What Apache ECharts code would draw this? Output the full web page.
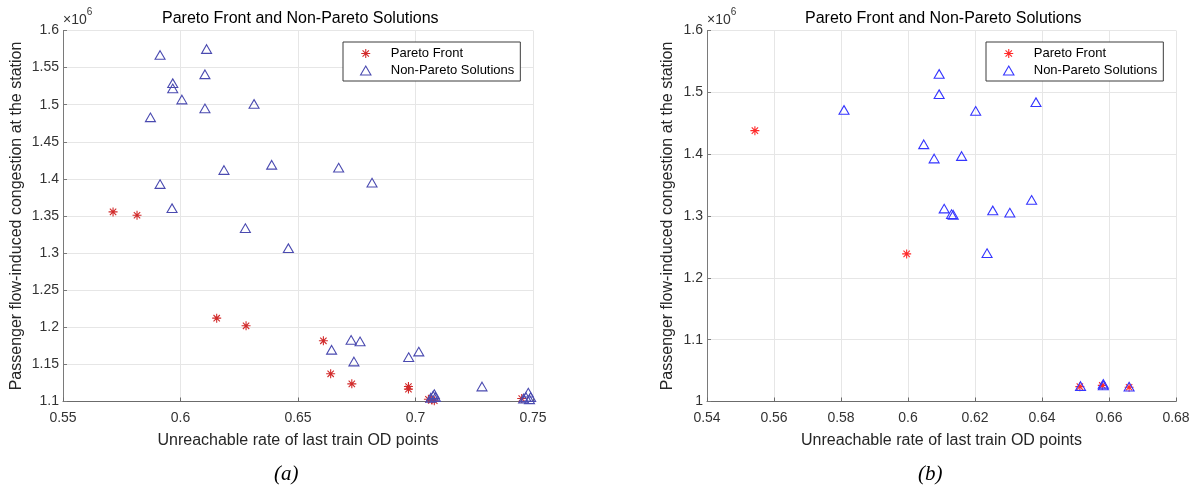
<!DOCTYPE html>
<html>
<head>
<meta charset="utf-8">
<script src="https://cdn.jsdelivr.net/npm/echarts@6/dist/echarts.min.js"></script>
<style>
html,body{margin:0;padding:0;background:#fff;}
#chart{width:1195px;height:491px;}
</style>
</head>
<body>
<div id="chart"></div>
<script>
// ---- Data (y values in units of 10^6) ----
const titleText = 'Pareto Front and Non-Pareto Solutions';
const xLabel = 'Unreachable rate of last train OD points';
const yLabel = 'Passenger flow-induced congestion at the station';
const seriesNames = ['Pareto Front', 'Non-Pareto Solutions'];
const panelLabels = ['(a)', '(b)'];

const xTicksA = [0.55, 0.6, 0.65, 0.7, 0.75];
const yTicksA = [1.1, 1.15, 1.2, 1.25, 1.3, 1.35, 1.4, 1.45, 1.5, 1.55, 1.6];
const xTicksB = [0.54, 0.56, 0.58, 0.6, 0.62, 0.64, 0.66, 0.68];
const yTicksB = [1.0, 1.1, 1.2, 1.3, 1.4, 1.5, 1.6];

const paretoAX = [0.5713, 0.5815, 0.6154, 0.6279, 0.6608, 0.6639, 0.6729, 0.697, 0.697, 0.7055, 0.707, 0.708, 0.7452];
const paretoAY = [1.3555, 1.351, 1.2123, 1.202, 1.1818, 1.1373, 1.1238, 1.1202, 1.1167, 1.103, 1.102, 1.101, 1.104];

const nonParetoAX = [0.5913, 0.6111, 0.6104, 0.5967, 0.5967, 0.6006, 0.6104, 0.5872, 0.6313, 0.6185, 0.6388, 0.5913, 0.5964, 0.6276, 0.6673, 0.6815, 0.6459, 0.6726, 0.6764, 0.6643, 0.6738, 0.6971, 0.7014, 0.7283, 0.7065, 0.7075, 0.708, 0.7085, 0.746, 0.747, 0.748, 0.749, 0.7485];
const nonParetoAY = [1.567, 1.575, 1.541, 1.529, 1.522, 1.507, 1.495, 1.483, 1.501, 1.412, 1.419, 1.393, 1.3605, 1.3336, 1.4152, 1.395, 1.3066, 1.183, 1.181, 1.1697, 1.1539, 1.1598, 1.1673, 1.1202, 1.105, 1.108, 1.11, 1.106, 1.104, 1.106, 1.112, 1.106, 1.103];

const paretoBX = [0.5543, 0.5996, 0.6513, 0.658, 0.666];
const paretoBY = [1.438, 1.2387, 1.024, 1.026, 1.023];

const nonParetoBX = [0.6093, 0.6093, 0.6202, 0.6382, 0.6047, 0.6078, 0.616, 0.6108, 0.613, 0.6135, 0.6253, 0.6304, 0.6369, 0.6236, 0.5809, 0.6515, 0.6583, 0.6583, 0.666];
const nonParetoBY = [1.5297, 1.497, 1.47, 1.484, 1.416, 1.393, 1.397, 1.312, 1.303, 1.302, 1.309, 1.3055, 1.326, 1.24, 1.4715, 1.025, 1.0286, 1.026, 1.024];

// ---- Styling ----
const STAR = 'path://M5,0 L5,10 M0,5 L10,5 M1.46,1.46 L8.54,8.54 M1.46,8.54 L8.54,1.46';
const TRI = 'path://M5,0 L10,8.66 L0,8.66 Z';
const FONT = '"Liberation Sans", Arial, Helvetica, sans-serif';
const colors = {
  a: { star: '#d22b2b', tri: '#4a4ab0' },
  b: { star: '#ff2a2a', tri: '#3535ff' }
};

const zip = (xs, ys) => xs.map((x, i) => [x, ys[i]]);
const fmt = v => String(parseFloat(v.toFixed(4)));

function xAxis(ticks, gridIndex) {
  return {
    type: 'value', gridIndex,
    min: ticks[0], max: ticks[ticks.length - 1],
    interval: +(ticks[1] - ticks[0]).toFixed(4),
    name: xLabel, nameLocation: 'middle', nameGap: 31,
    nameTextStyle: { fontFamily: FONT, fontSize: 16, color: '#262626' },
    axisLine: { show: true, onZero: false, lineStyle: { color: '#6b6b6b', width: 1 } },
    axisTick: { show: true, inside: true, length: 4, lineStyle: { color: '#6b6b6b' } },
    axisLabel: { fontFamily: FONT, fontSize: 14, color: '#333', margin: 10, formatter: fmt },
    splitLine: { show: true, lineStyle: { color: '#e6e6e6', width: 1 } }
  };
}
function yAxis(ticks, gridIndex, nameGap) {
  return {
    type: 'value', gridIndex,
    min: ticks[0], max: ticks[ticks.length - 1],
    interval: +(ticks[1] - ticks[0]).toFixed(4),
    name: yLabel, nameLocation: 'middle', nameGap: nameGap,
    nameTextStyle: { fontFamily: FONT, fontSize: 16, color: '#262626' },
    axisLine: { show: true, onZero: false, lineStyle: { color: '#7a7a7a', width: 1 } },
    axisTick: { show: true, inside: true, length: 4, lineStyle: { color: '#7a7a7a' } },
    axisLabel: { fontFamily: FONT, fontSize: 14, color: '#333', margin: 4, formatter: fmt },
    splitLine: { show: true, lineStyle: { color: '#e6e6e6', width: 1 } }
  };
}
// secondary y axes only to carry the x10^6 exponent label
function expAxis(ticks, gridIndex) {
  return {
    type: 'value', gridIndex, position: 'left',
    min: ticks[0], max: ticks[ticks.length - 1],
    name: '{a|×10}{b|6}', nameLocation: 'end', nameGap: 3,
    nameTextStyle: {
      align: 'left', padding: [0, 0, 0, 0],
      rich: {
        a: { fontFamily: FONT, fontSize: 14, color: '#333', verticalAlign: 'bottom', lineHeight: 14 },
        b: { fontFamily: FONT, fontSize: 10, color: '#333', verticalAlign: 'top', lineHeight: 20 }
      }
    },
    axisLine: { show: false }, axisTick: { show: false }, axisLabel: { show: false }, splitLine: { show: false }
  };
}
function scatter(name, xs, ys, idx, symbol, color, size) {
  return {
    name, type: 'scatter', xAxisIndex: idx, yAxisIndex: idx,
    data: zip(xs, ys), symbol, symbolSize: size, symbolKeepAspect: true, clip: false,
    itemStyle: { color: 'rgba(0,0,0,0)', borderColor: color, borderWidth: 1.1, opacity: 1 },
    emphasis: { disabled: true }, animation: false
  };
}
function legend(left, c) {
  return {
    orient: 'vertical', left, top: 42,
    backgroundColor: '#fff', borderColor: '#3c3c3c', borderWidth: 1, borderRadius: 0,
    padding: [5, 6, 4, 17], itemWidth: 40, itemHeight: 9, itemGap: 4,
    selectedMode: false,
    textStyle: { fontFamily: FONT, fontSize: 13, color: '#000', lineHeight: 13 },
    data: [
      { name: seriesNames[0], icon: STAR, itemStyle: { color: 'rgba(0,0,0,0)', borderColor: c.star, borderWidth: 1.1 } },
      { name: seriesNames[1], icon: TRI, itemStyle: { color: 'rgba(0,0,0,0)', borderColor: c.tri, borderWidth: 1.1 } }
    ]
  };
}

const option = {
  backgroundColor: '#fff',
  animation: false,
  title: [
    { text: titleText, left: 162, top: 11, padding: 0, textStyle: { fontFamily: FONT, fontSize: 16, fontWeight: 'normal', color: '#000' } },
    { text: titleText, left: 805, top: 11, padding: 0, textStyle: { fontFamily: FONT, fontSize: 16, fontWeight: 'normal', color: '#000' } },
    { text: panelLabels[0], left: 274, top: 464, padding: 0, textStyle: { fontFamily: '"Liberation Serif", "Times New Roman", serif', fontStyle: 'italic', fontSize: 21, fontWeight: 'normal', color: '#000' } },
    { text: panelLabels[1], left: 918, top: 464, padding: 0, textStyle: { fontFamily: '"Liberation Serif", "Times New Roman", serif', fontStyle: 'italic', fontSize: 21, fontWeight: 'normal', color: '#000' } }
  ],
  legend: [legend(343, colors.a), legend(986, colors.b)],
  grid: [
    { left: 63, top: 30.5, width: 470, height: 371, containLabel: false },
    { left: 707, top: 30.5, width: 469, height: 371, containLabel: false }
  ],
  xAxis: [xAxis(xTicksA, 0), xAxis(xTicksB, 1)],
  yAxis: [yAxis(yTicksA, 0, 38), yAxis(yTicksB, 1, 31), expAxis(yTicksA, 0), expAxis(yTicksB, 1)],
  series: [
    scatter(seriesNames[0], paretoAX, paretoAY, 0, STAR, colors.a.star, 9),
    scatter(seriesNames[1], nonParetoAX, nonParetoAY, 0, TRI, colors.a.tri, 10),
    scatter(seriesNames[0], paretoBX, paretoBY, 1, STAR, colors.b.star, 9),
    scatter(seriesNames[1], nonParetoBX, nonParetoBY, 1, TRI, colors.b.tri, 10)
  ]
};

const chart = echarts.init(document.getElementById('chart'), null, { renderer: 'canvas' });
chart.setOption(option);
</script>
</body>
</html>
